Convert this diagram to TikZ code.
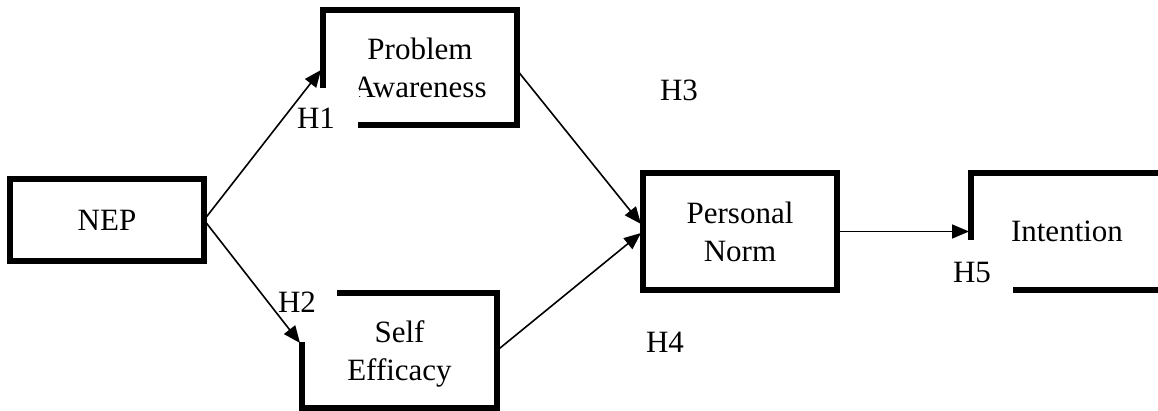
\documentclass[tikz,border=0pt]{standalone}
\usepackage{fontspec}
\setmainfont{Liberation Serif}
\usetikzlibrary{arrows.meta}
\begin{document}
\begin{tikzpicture}[x=1pt,y=-1pt,
  box/.style={line width=5.5pt},
  conn/.style={line width=1.6pt,-{Triangle[length=17pt,width=14pt]}},
  lbl/.style={font=\fontsize{31}{38}\selectfont, inner sep=0pt, text depth=0pt},
  txt/.style={font=\fontsize{31}{38}\selectfont, align=center, inner sep=0pt, outer sep=0pt, text depth=0pt}]
\useasboundingbox (0,0) rectangle (1158,411);
% boxes
\node[txt, draw, line width=5.5pt, minimum width=194pt, minimum height=82pt] (nep) at (107,220) {NEP};
\node[txt, minimum width=194pt, minimum height=115pt] (pa) at (420,67.5) {Problem\\Awareness};
\node[txt, minimum width=195pt, minimum height=115pt] (se) at (399.5,350.5) {Self\\Efficacy};
\node[txt, draw, line width=5.5pt, minimum width=194pt, minimum height=117pt] (pn) at (740,231.5) {Personal\\Norm};
\node[txt] (int) at (1067,231.5) {Intention};
\coordinate (paA) at (323,88);
\coordinate (paB) at (358,125);
\coordinate (seA) at (337,293);
\coordinate (seB) at (302,342);
\draw[box] (paA) -- (pa.north west) -- (pa.north east) -- (pa.south east) -- (paB);
\draw[box] (seA) -- (se.north east) -- (se.south east) -- (se.south west) -- (seB);
\coordinate (inA) at (971,240);
\coordinate (inB) at (971,173);
\coordinate (inC) at (1158,173);
\coordinate (inD) at (1013,290);
\coordinate (inE) at (1158,290);
\draw[box] (inA) -- (inB) -- (inC);
\draw[box] (inD) -- (inE);
% white patch clipping the A
\fill[white] (330,89) rectangle (358.5,122);
% arrow ends
\coordinate (paIn) at (321,70);
\coordinate (seIn) at (300,343);
\coordinate (paOut) at (517,70);
\coordinate (pnIn1) at (641,224);
\coordinate (pnIn2) at (641,233);
\coordinate (intIn) at (969,231.5);
\draw[conn] (nep.east) -- (paIn);
\draw[conn] (nep.east) -- (seIn);
\draw[conn] (paOut) -- (pnIn1);
\draw[conn] (se.east) -- (pnIn2);
\draw[conn] (pn.east) -- (intIn);
% labels
\node[lbl] (h1) at (316,118) {H1};
\node[lbl] (h2) at (297,302) {H2};
\node[lbl] (h3) at (679,90) {H3};
\node[lbl] (h4) at (665,342) {H4};
\node[lbl] (h5) at (972,272) {H5};
\end{tikzpicture}
\end{document}
